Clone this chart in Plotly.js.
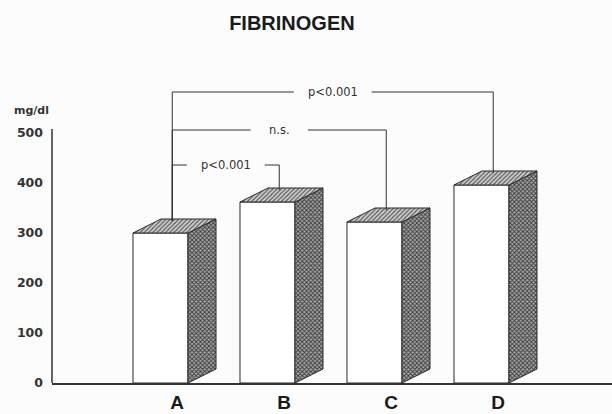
<!DOCTYPE html>
<html>
<head>
<meta charset="utf-8">
<script src="https://cdn.plot.ly/plotly-3.0.1.min.js"></script>
<style>html,body{margin:0;padding:0;background:#fcfcfc;}#chart{width:612px;height:414px;}</style>
</head>
<body>
<div id="chart"></div>
<script>
// ---- data ----
const categories = ['A', 'B', 'C', 'D'];
const fibrinogen = [300, 362, 322, 396];          // mg/dl
const yTickVals = [0, 100, 200, 300, 400, 500];
const yTickText = ['0', '100', '200', '300', '400', '500'];
const compFrom = [0, 0, 0];
const compTo = [3, 2, 1];
const compLabels = ['p<0.001', 'n.s.', 'p<0.001'];
const compLevels = [582, 506, 436];

// ---- geometry / style ----
const barW = 0.514, depthX = 0.262, depthY = 28;
const labelShift = 0.155, vOff = 0.11;
const idx = categories.map((c, i) => i);

const traces = [];
traces.push({
  type: 'bar', x: idx, y: fibrinogen, width: barW,
  marker: {color: '#ffffff', line: {color: '#2a2a2a', width: 1}},
  hoverinfo: 'skip'
});
fibrinogen.forEach((v, i) => {
  const xl = i - barW / 2, xr = i + barW / 2;
  traces.push({
    type: 'scatter', mode: 'lines', fill: 'toself',
    x: [xr, xr + depthX, xr + depthX, xr, xr],
    y: [0, depthY, v + depthY, v, 0],
    line: {color: '#2a2a2a', width: 1},
    fillcolor: '#8a8a8a',
    fillpattern: {shape: 'x', size: 3, solidity: 0.5, fgcolor: '#3a3a3a', bgcolor: '#a8a8a8'},
    hoverinfo: 'skip'
  });
  traces.push({
    type: 'scatter', mode: 'lines', fill: 'toself',
    x: [xl, xr, xr + depthX, xl + depthX, xl],
    y: [v, v, v + depthY, v + depthY, v],
    line: {color: '#2a2a2a', width: 1},
    fillcolor: '#b0b0b0',
    fillpattern: {shape: '/', size: 3, solidity: 0.4, fgcolor: '#5a5a5a', bgcolor: '#d0d0d0'},
    hoverinfo: 'skip'
  });
});

const shapes = [];
const annotations = [];
const ln = {color: '#333', width: 1};
compLabels.forEach((lab, k) => {
  const a = compFrom[k], b = compTo[k], lev = compLevels[k];
  const xa = a + vOff, xb = b + vOff, mid = (xa + xb) / 2;
  const hg = 0.14 + 0.032 * lab.length;
  shapes.push({type: 'line', xref: 'x', yref: 'y', x0: xa, x1: xa, y0: lev, y1: fibrinogen[a] + depthY * 0.85, line: ln});
  shapes.push({type: 'line', xref: 'x', yref: 'y', x0: xa, x1: mid - hg, y0: lev, y1: lev, line: ln});
  shapes.push({type: 'line', xref: 'x', yref: 'y', x0: mid + hg, x1: xb, y0: lev, y1: lev, line: ln});
  shapes.push({type: 'line', xref: 'x', yref: 'y', x0: xb, x1: xb, y0: lev, y1: fibrinogen[b] + depthY * 0.85, line: ln});
  annotations.push({xref: 'x', yref: 'y', x: mid, y: lev, text: lab, showarrow: false,
    xanchor: 'center', yanchor: 'middle',
    font: {family: 'DejaVu Sans', size: 11.5, color: '#333'}});
});
// y axis line
shapes.push({type: 'line', xref: 'paper', yref: 'y', x0: 0, x1: 0, y0: 0, y1: 508, line: {color: '#333', width: 1.5}});
annotations.push({xref: 'paper', yref: 'y', x: -0.0714, y: 546, text: 'mg/dl', showarrow: false,
  xanchor: 'left', yanchor: 'middle', font: {family: 'DejaVu Sans', size: 11, weight: 'bold', color: '#333'}});

const layout = {
  width: 612, height: 414,
  margin: {l: 52, r: 0, t: 83, b: 31, pad: 0},
  paper_bgcolor: '#fcfcfc', plot_bgcolor: 'rgba(0,0,0,0)',
  showlegend: false, hovermode: false,
  title: {text: 'FIBRINOGEN', x: 0.477, xref: 'container', y: 0.944, yref: 'container',
    xanchor: 'center', yanchor: 'middle',
    font: {family: 'Liberation Sans', size: 20, weight: 'bold', color: '#1a1a1a'}},
  xaxis: {range: [-1.014, 4.22], tickvals: idx.map(i => i + labelShift), ticktext: categories,
    showgrid: false, zeroline: false, showline: true, linecolor: '#333', linewidth: 1.5,
    ticks: '', ticklabelstandoff: 2,
    tickfont: {family: 'Liberation Sans', size: 19, weight: 'bold', color: '#1a1a1a'}},
  yaxis: {range: [0, 600], tickvals: yTickVals, ticktext: yTickText,
    showgrid: false, zeroline: false, showline: false,
    ticks: '', ticklabelstandoff: 8,
    tickfont: {family: 'DejaVu Sans', size: 12.5, weight: 'bold', color: '#333'}},
  shapes: shapes, annotations: annotations
};

Plotly.newPlot('chart', traces, layout, {staticPlot: true, displayModeBar: false});
</script>
</body>
</html>
